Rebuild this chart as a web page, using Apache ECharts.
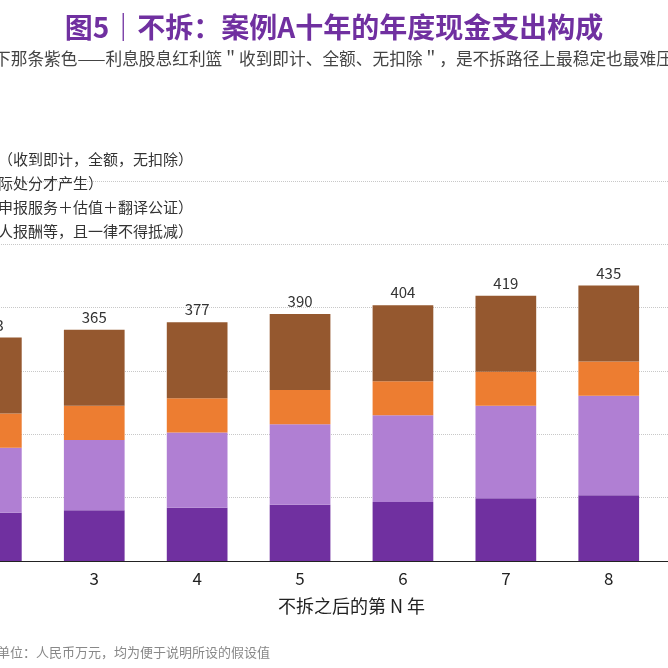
<!DOCTYPE html>
<html>
<head>
<meta charset="utf-8">
<script src="https://cdn.jsdelivr.net/npm/echarts@6/dist/echarts.min.js"></script>
<style>
  html, body { margin: 0; padding: 0; background: #fff; }
  #chart { width: 668px; height: 668px; }
</style>
</head>
<body>
<div id="chart"></div>
<script>
// 第 N 年
var years = ['1', '2', '3', '4', '5', '6', '7', '8', '9', '10']
// 单位：人民币万元
var interest = [72, 76, 80, 84, 89, 93, 99, 104, 109, 114]
var gains = [95, 103, 111, 119, 127, 137, 146, 157, 167, 178]
var compliance = [54, 54, 54, 54, 54, 54, 54, 54, 54, 54]
var fees = [120, 120, 120, 120, 120, 120, 120, 120, 120, 120]
var totals = [341, 353, 365, 377, 390, 404, 419, 435, 450, 466]
var yTicks = [0, 100, 200, 300, 400, 500, 600]

var names = [
  '利息股息红利税（收到即计，全额，无扣除）',
  '资本利得税（实际处分才产生）',
  '合规成本（年度申报服务＋估值＋翻译公证）',
  '管理费用（受托人报酬等，且一律不得抵减）'
]
var colors = ['#7030a0', '#b07fd3', '#ed7d31', '#95582f']
var font = 'Noto Sans CJK SC'

var chart = echarts.init(document.getElementById('chart'))

function barSeries(i, data) {
  var s = {
    name: names[i],
    type: 'bar',
    stack: 'total',
    barWidth: '59%',
    data: data,
    itemStyle: { color: colors[i] }
  }
  return s
}

// 最上一层带总额标签
var feeSeries = barSeries(3, fees)
feeSeries.label = {
  show: true,
  position: 'top',
  distance: 5,
  fontFamily: font,
  fontSize: 15,
  color: '#333',
  formatter: function (p) {
    return totals[p.dataIndex]
  }
}

var option = {
  animation: false,
  color: colors,
  textStyle: { fontFamily: font },
  title: [
    {
      text: '图5｜不拆：案例A十年的年度现金支出构成',
      left: 'center',
      top: 8,
      textStyle: { fontFamily: font, fontSize: 28, fontWeight: 'bold', color: '#7030a0' }
    },
    {
      text: '图中最下那条紫色——利息股息红利篮＂收到即计、全额、无扣除＂，是不拆路径上最稳定也最难压缩的一块',
      left: -61,
      top: 45,
      textStyle: { fontFamily: font, fontSize: 16.7, fontWeight: 'normal', color: '#444' }
    },
    {
      text: '单位：人民币万元，均为便于说明所设的假设值',
      left: -8,
      top: 641,
      textStyle: { fontFamily: font, fontSize: 13, fontWeight: 'normal', color: '#888' }
    }
  ],
  legend: {
    orient: 'vertical',
    left: -126,
    top: 152,
    padding: 0,
    itemWidth: 14,
    itemHeight: 14,
    itemGap: 9,
    icon: 'rect',
    textStyle: { fontFamily: font, fontSize: 15, color: '#333' },
    data: names
  },
  grid: {
    left: -163,
    right: -198,
    top: 181,
    bottom: 107,
    containLabel: false,
    outerBoundsMode: 'none'
  },
  xAxis: {
    type: 'category',
    data: years,
    name: '不拆之后的第 N 年',
    nameLocation: 'middle',
    nameGap: 36,
    nameTextStyle: { fontFamily: font, fontSize: 18, color: '#222' },
    axisLine: { lineStyle: { color: '#222', width: 1 } },
    axisTick: { alignWithLabel: true, length: 5, lineStyle: { color: '#222' } },
    axisLabel: { fontFamily: font, fontSize: 17, color: '#222', margin: 9 }
  },
  yAxis: {
    type: 'value',
    min: yTicks[0],
    max: yTicks[yTicks.length - 1],
    interval: 100,
    axisLine: { show: false },
    axisTick: { show: false },
    axisLabel: { color: '#666' },
    splitLine: { lineStyle: { type: 'dotted', color: '#c8c8c8' } }
  },
  series: [
    barSeries(0, interest),
    barSeries(1, gains),
    barSeries(2, compliance),
    feeSeries
  ]
}

chart.setOption(option)
</script>
</body>
</html>
